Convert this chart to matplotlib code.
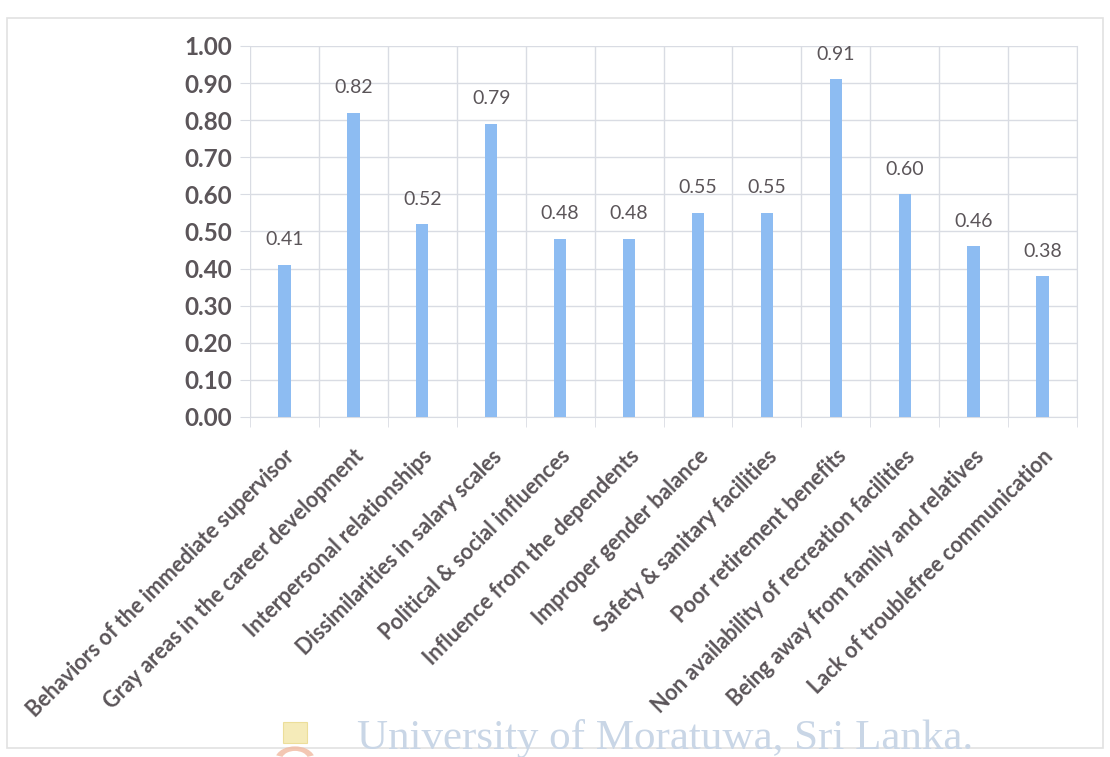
import matplotlib
matplotlib.use("Agg")
import matplotlib.pyplot as plt
from matplotlib.patches import Rectangle, Wedge
from matplotlib.transforms import ScaledTranslation
import numpy as np

categories = [
    "Behaviors of the immediate supervisor",
    "Gray areas in the career development",
    "Interpersonal relationships",
    "Dissimilarities in salary scales",
    "Political & social influences",
    "Influence from the dependents",
    "Improper gender balance",
    "Safety & sanitary facilities",
    "Poor retirement benefits",
    "Non availability of recreation facilities",
    "Being away from family and relatives",
    "Lack of troublefree communication",
]
values = [0.41, 0.82, 0.52, 0.79, 0.48, 0.48, 0.55, 0.55, 0.91, 0.60, 0.46, 0.38]
y_ticks = [0.0, 0.1, 0.2, 0.3, 0.4, 0.5, 0.6, 0.7, 0.8, 0.9, 1.0]

FONT = ["Lato", "DejaVu Sans"]
TEXT_COLOR = "#5b5559"
GRID_COLOR = "#d9dce3"
BAR_COLOR = "#8dbcf2"

fig = plt.figure(figsize=(11.10, 7.57), dpi=100)
fig.patch.set_facecolor("white")

# chart-area frame
fig.add_artist(Rectangle((7 / 1110, 1 - 748 / 757), (1103 - 7) / 1110, (748 - 18) / 757,
                         transform=fig.transFigure, fill=False,
                         edgecolor="#e2e2e2", linewidth=1.2))

ax = fig.add_axes([250 / 1110, 1 - 417 / 757, (1077 - 250) / 1110, (417 - 46) / 757])
x = np.arange(len(categories))
ax.bar(x, values, width=0.18, color=BAR_COLOR, zorder=3)

ax.set_xlim(-0.5, len(categories) - 0.5)
ax.set_ylim(0, 1.0)

ax.set_yticks(y_ticks)
ax.set_yticklabels([f"{v:.2f}" for v in y_ticks], fontsize=17.5, color=TEXT_COLOR,
                   family=FONT, fontweight="bold")
ax.tick_params(axis="y", length=7, color=GRID_COLOR, pad=6)
ax.yaxis.grid(True, color=GRID_COLOR, linewidth=1.0, zorder=0)

ax.set_xticks(x)
ax.set_xticklabels(categories, rotation=45, ha="right", va="center",
                   rotation_mode="anchor", fontsize=15.5, color=TEXT_COLOR,
                   family=FONT, fontweight="bold")
ax.tick_params(axis="x", which="major", length=0, pad=26)
shift = ScaledTranslation(7 / 100, 0, fig.dpi_scale_trans)
for lbl in ax.get_xticklabels():
    lbl.set_transform(lbl.get_transform() + shift)
ax.set_xticks(np.arange(len(categories) + 1) - 0.5, minor=True)
ax.tick_params(axis="x", which="minor", length=7, color=GRID_COLOR)
ax.xaxis.grid(True, which="minor", color=GRID_COLOR, linewidth=1.0, zorder=0)

for s in ["left", "top"]:
    ax.spines[s].set_visible(False)
ax.spines["right"].set_color(GRID_COLOR)
ax.spines["bottom"].set_color(GRID_COLOR)

for xi, v in zip(x, values):
    ax.annotate(f"{v:.2f}", (xi, v), xytext=(0, 18), textcoords="offset points",
                ha="center", va="center", fontsize=14, color=TEXT_COLOR,
                family=FONT)

# institutional footer
fig.text(665 / 1110, 1 - 739 / 757, "University of Moratuwa, Sri Lanka.",
         ha="center", va="center", fontsize=31, color="#c9d6e6",
         family=["Liberation Serif", "DejaVu Serif"])
fig.add_artist(Rectangle((283 / 1110, 1 - 743 / 757), 24 / 1110, 21 / 757,
                         transform=fig.transFigure, facecolor="#f3e6a8",
                         edgecolor="#e9d98a", linewidth=0.8, alpha=0.8))
fig.add_artist(Wedge((295 / 1110, 1 - 760 / 757), 0.018, 20, 160,
                     width=0.006, transform=fig.transFigure,
                     facecolor="#f1b9a0", edgecolor="none", alpha=0.8))

fig.savefig("out.png", dpi=100, facecolor="white")
